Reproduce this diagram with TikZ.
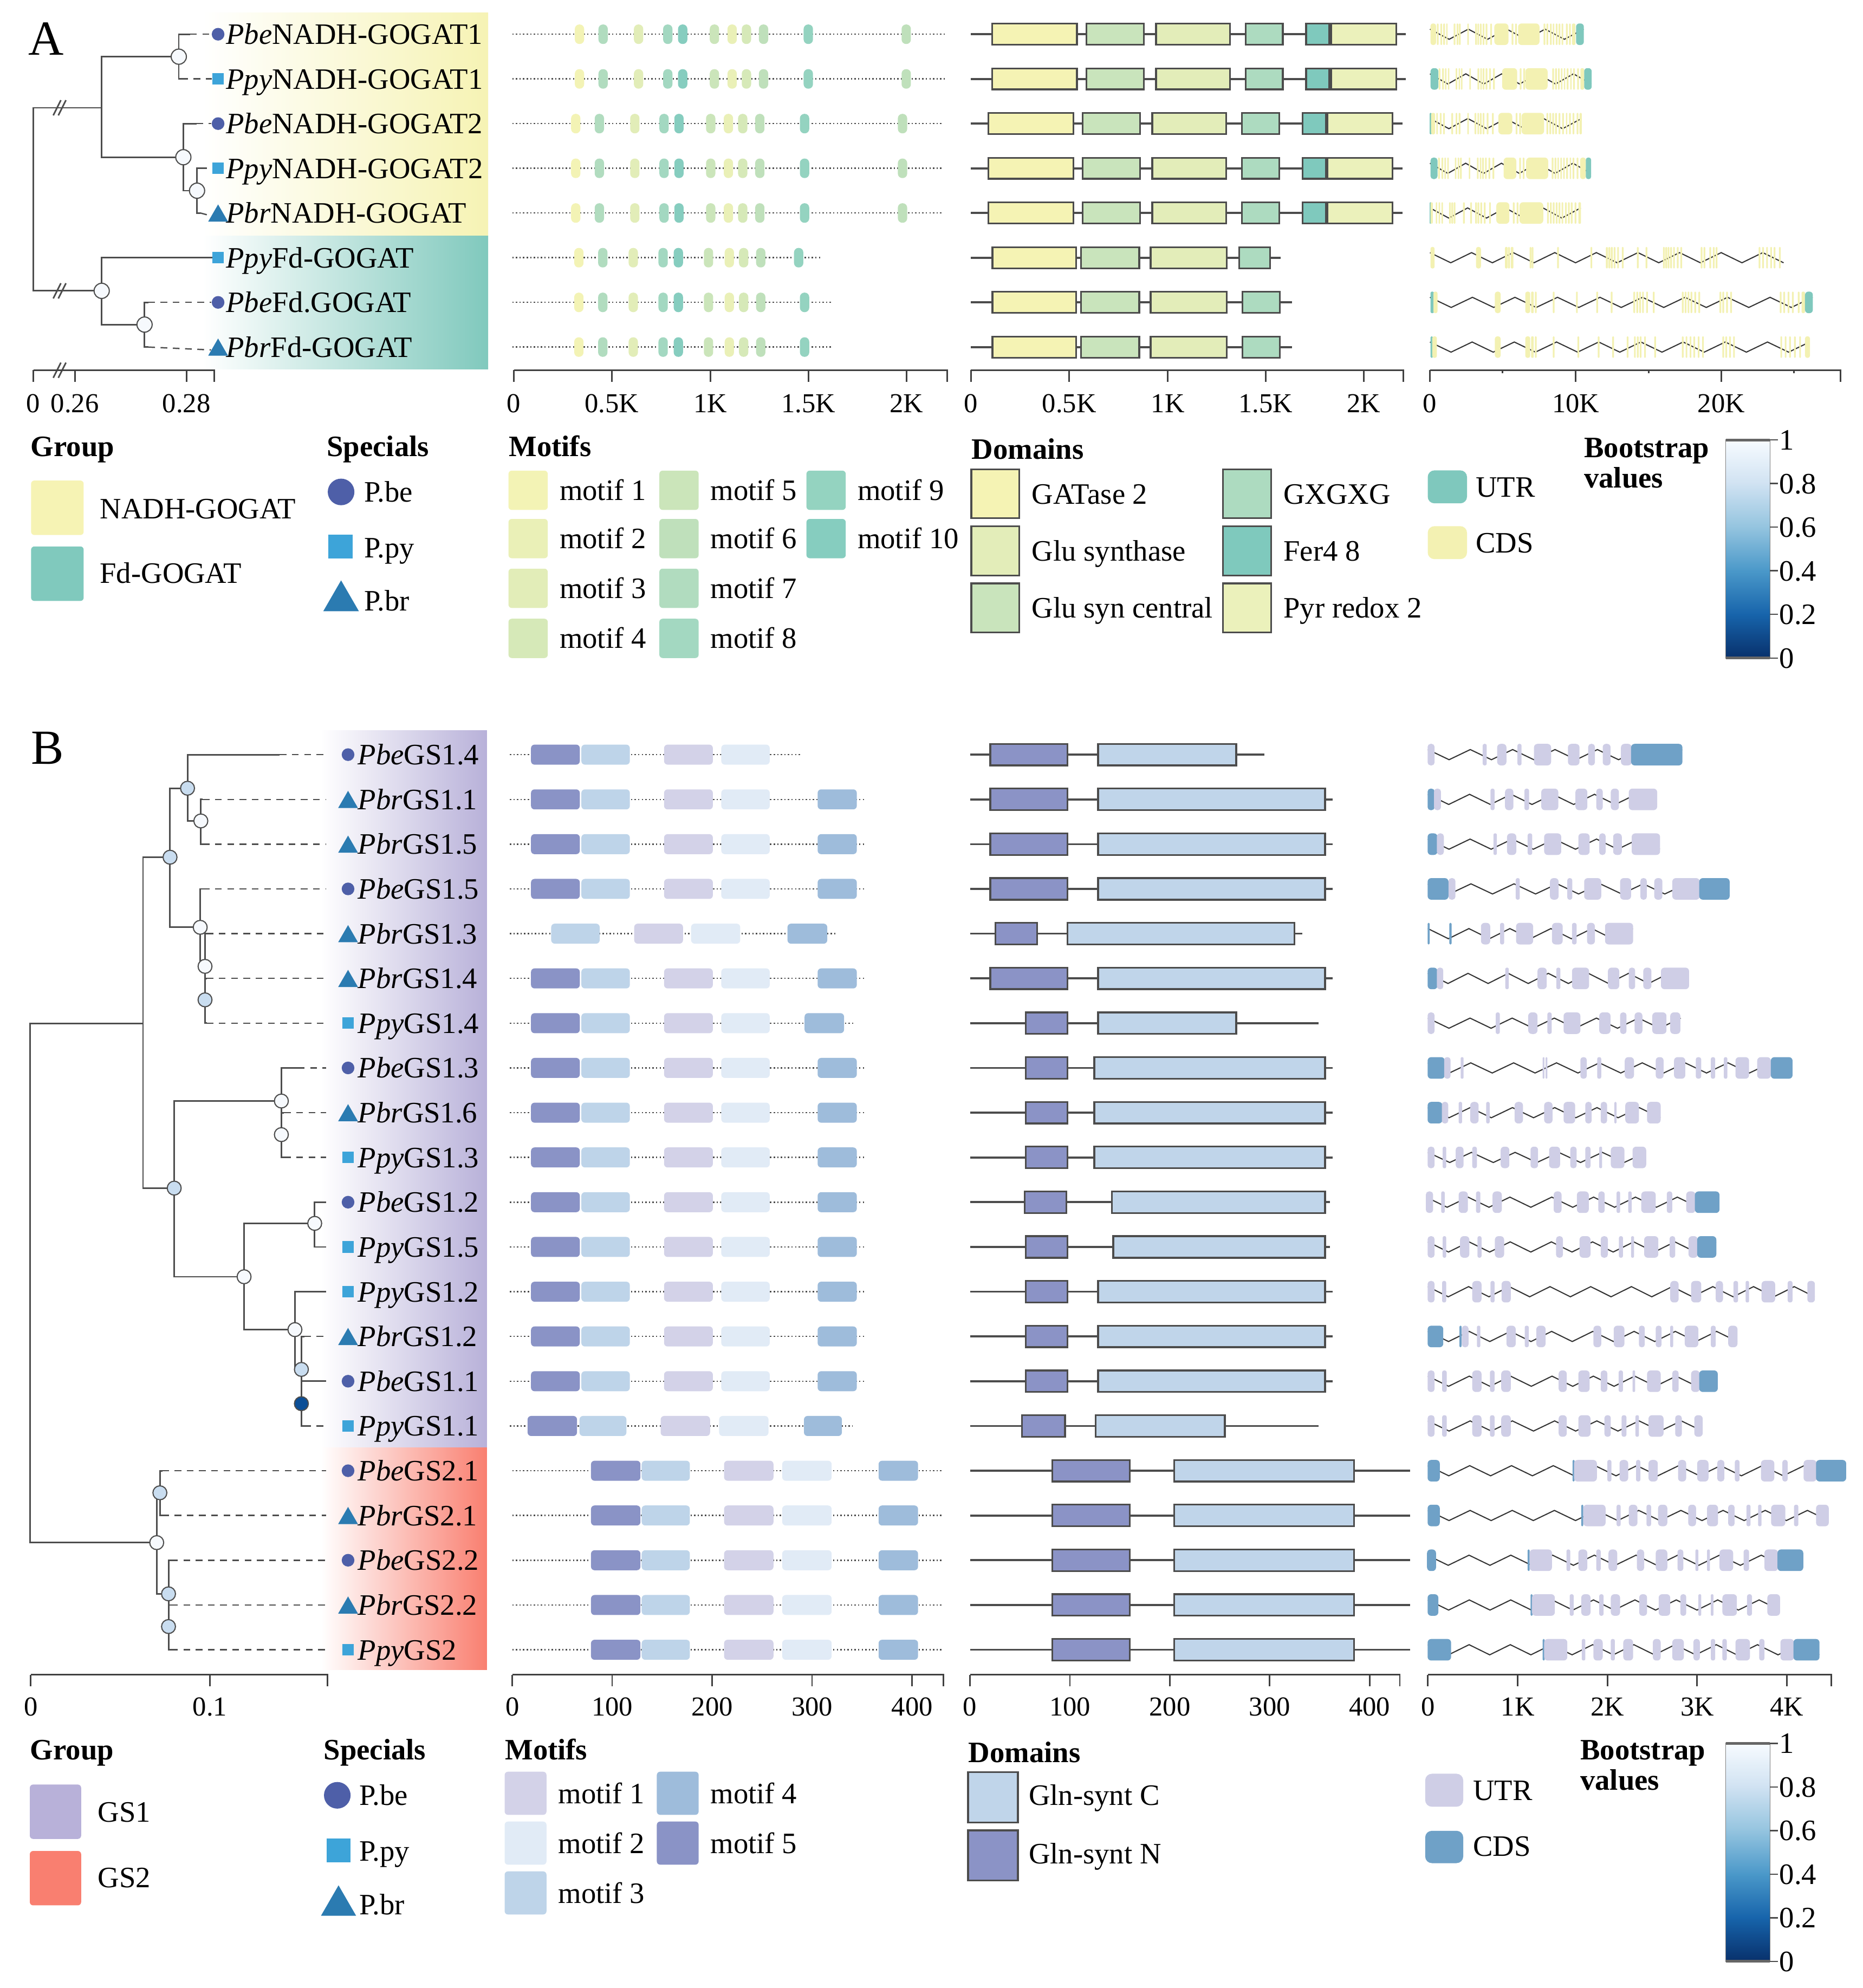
\documentclass[tikz,border=0pt]{standalone}
\usepackage{fontspec}
\setmainfont{Liberation Serif}
\usetikzlibrary{positioning,shapes.geometric}

\definecolor{treeln}{HTML}{4D4D4D}
\definecolor{cbe}{HTML}{4E5FA8}
\definecolor{cpy}{HTML}{3DA4D9}
\definecolor{cbr}{HTML}{2B7BB1}
\definecolor{bsw}{HTML}{F6F9FD}
\definecolor{bsl}{HTML}{C9DDF0}
\definecolor{bsd}{HTML}{0B4E96}
\definecolor{grpY}{HTML}{F6F3B4}
\definecolor{grpT}{HTML}{80C9BD}
\definecolor{grpP}{HTML}{B8B1D9}
\definecolor{grpR}{HTML}{F97F70}
\definecolor{m1}{HTML}{F3F3B5}
\definecolor{m2}{HTML}{EAF0B7}
\definecolor{m3}{HTML}{E2EDB8}
\definecolor{m4}{HTML}{D6E9B8}
\definecolor{m5}{HTML}{CBE5BA}
\definecolor{m6}{HTML}{BFE0BB}
\definecolor{m7}{HTML}{B1DCBF}
\definecolor{m8}{HTML}{A3D8C1}
\definecolor{m9}{HTML}{94D3C0}
\definecolor{m10}{HTML}{86CDBF}
\definecolor{dGA}{HTML}{F5F3B4}
\definecolor{dGS}{HTML}{E3EDB9}
\definecolor{dGC}{HTML}{C9E4BC}
\definecolor{dGX}{HTML}{ADDBC0}
\definecolor{dFe}{HTML}{7FC9BD}
\definecolor{dPy}{HTML}{EBF1BB}
\definecolor{gY}{HTML}{F3F1B2}
\definecolor{gT}{HTML}{7FC8BD}
\definecolor{gL}{HTML}{CFCEE6}
\definecolor{gC}{HTML}{6FA1C7}
\definecolor{q1}{HTML}{D3D2E8}
\definecolor{q2}{HTML}{E1EBF6}
\definecolor{q3}{HTML}{BED4E9}
\definecolor{q4}{HTML}{9EBCDB}
\definecolor{q5}{HTML}{8A93C6}
\definecolor{dsC}{HTML}{C0D5EA}
\definecolor{dsN}{HTML}{8B93C6}
\definecolor{cb1}{HTML}{F7FBFF}
\definecolor{cb2}{HTML}{D0E2F2}
\definecolor{cb3}{HTML}{94C4DF}
\definecolor{cb4}{HTML}{4A98C9}
\definecolor{cb5}{HTML}{1764AB}
\definecolor{cb6}{HTML}{08306B}

\tikzstyle{branch}=[draw=treeln,line width=0.7pt]
\tikzstyle{leafdash}=[draw=treeln,line width=0.6pt,dash pattern=on 3pt off 2.5pt]
\tikzstyle{bsnode}=[draw=treeln,circle,line width=0.5pt,minimum size=0.24cm,inner sep=0pt]
\tikzstyle{mkbe}=[circle,fill=cbe,minimum size=0.2cm,inner sep=0pt]
\tikzstyle{mkpy}=[rectangle,fill=cpy,minimum size=0.18cm,inner sep=0pt]
\tikzstyle{tri}=[regular polygon,regular polygon sides=3,fill=cbr,inner sep=0pt]
\tikzstyle{mkbr}=[tri,minimum size=0.36cm,yshift=-0.045cm]
\tikzstyle{lab}=[anchor=west,inner sep=0pt,text height=9pt,text depth=0pt,font=\fontsize{13.3}{16}\selectfont]
\tikzstyle{ttl}=[lab,font=\fontsize{13.3}{16}\selectfont\bfseries]
\tikzstyle{ticklab}=[lab,anchor=center,text height=8.3pt,font=\fontsize{12.3}{15}\selectfont]
\tikzstyle{axisln}=[draw=black!75,line width=0.7pt]
\tikzstyle{motifln}=[draw=black!70,line width=0.6pt,densely dotted]
\tikzstyle{domln}=[draw=black!70,line width=0.9pt]
\tikzstyle{dombox}=[draw=black!70,line width=0.8pt]
\tikzstyle{intron}=[draw=black!80,line width=0.5pt]

% zigzag intron line: y, start, end, half period
\newcommand\zig[4]{%
  \pgfmathtruncatemacro\zn{max(1,round((#3-#2)/#4))}%
  \pgfmathsetmacro\zd{(#3-#2)/\zn}%
  \draw[intron] (#2,#1-4) \foreach \k in {1,...,\zn}{ -- ({#2+\k*\zd},{#1+4-8*mod(\k+1,2)})};%
}
% gene row: y, start, end, half period, exons a/b/colour
\newcommand\generow[5]{%
  \zig{#1}{#2}{#3}{#4}%
  \foreach \a/\b/\c in {#5}{%
    \pgfmathsetmacro\rc{min(1.6,(\b-\a+2)*0.055)}%
    \fill[fill=g\c,rounded corners=\rc pt] (\a-1,#1-8.5) rectangle (\b+1,#1+8.5);}%
}
% motif row: y, start, end, boxes a/b/colour
\newcommand\qrow[4]{%
  \draw[motifln] (#2,#1) -- (#3,#1);
  \foreach \a/\b/\c in {#4} \fill[fill=\c,rounded corners=1.6pt] (\a,#1-7.9) rectangle (\b,#1+7.9);
}
% colour bar: top y, bottom y
\newcommand\bscolorbar[2]{%
  \pgfmathsetmacro\hh{(#2-#1)/5}
  \foreach \ca/\cb [count=\j from 0] in {cb1/cb2,cb2/cb3,cb3/cb4,cb4/cb5,cb5/cb6}
    \shade[top color=\ca,bottom color=\cb] (1361,{#1+\j*\hh}) rectangle (1396,{#1+(\j+1)*\hh+0.3});
  \draw[black!50,line width=0.4pt] (1361,#1) rectangle (1396,#2);
  \draw[black!60,line width=1.2pt] (1361,#1) -- (1396,#1) (1361,#2) -- (1396,#2);
  \foreach \v [count=\j from 0] in {1,0.8,0.6,0.4,0.2,0}{
    \draw[black!70,line width=0.6pt] (1396,{#1+\j*\hh}) -- (1402,{#1+\j*\hh});
    \node[lab] at (1403,{#1+\j*\hh}) {\v};}
}

\begin{document}
\begin{tikzpicture}[x=0.02cm,y=-0.02cm]
\useasboundingbox (0,0) rectangle (1469,1568);

% group backgrounds
\shade[left color=white,right color=grpY] (160,10) rectangle (385,186);
\shade[left color=white,right color=grpT] (160,186) rectangle (385,291);
\shade[left color=white,right color=grpP] (253,576) rectangle (384,1142);
\shade[left color=white,right color=grpR] (253,1142) rectangle (384,1317);

\node[font=\fontsize{22}{26}\selectfont,inner sep=0pt] (pA) at (36.5,30.5) {A};
\node[font=\fontsize{22}{26}\selectfont,inner sep=0pt] (pB) at (37.5,590) {B};

%%%%% tree A
\coordinate (a0) at (26.3,157);
\coordinate (a1) at (80,85);
\coordinate (a2) at (141,44.7);
\coordinate (a3) at (144.6,124);
\coordinate (a5) at (155.4,150.4);
\coordinate (a4) at (80.2,229.4);
\coordinate (a6) at (114,256);
\foreach \x [count=\i] in {150,143,155,158,158,167,117,117}
  \coordinate (ta\i) at (\x,{27+35.25*(\i-1)});
\foreach \sp/\nm [count=\i] in {be/NADH-GOGAT1,py/NADH-GOGAT1,be/NADH-GOGAT2,py/NADH-GOGAT2,br/NADH-GOGAT,py/Fd-GOGAT,be/Fd.GOGAT,br/Fd-GOGAT}{
  \node[mk\sp] (ma\i) at (172,{27+35.25*(\i-1)}) {};
  \node[lab] (la\i) at (178,{27+35.25*(\i-1)}) {\textit{P\sp}\nm};
}
\foreach \p/\c in {a0/a1,a0/a4,a1/a2,a1/a3,a2/ta1,a2/ta2,a3/ta3,a3/a5,a5/ta4,a5/ta5,a4/ta6,a4/a6,a6/ta7,a6/ta8}
  \draw[branch] (\p) |- (\c);
\foreach \i in {1,...,8} \draw[leafdash] (ta\i) -- (ma\i.west);
\foreach \n in {a2,a3,a5,a4,a6} \node[bsnode,fill=bsw] (c\n) at (\n) {};
\foreach \y in {85,229.4,292} \draw[branch] (42,\y+6) -- (48,\y-6) (46,\y+6) -- (52,\y-6);
\draw[axisln] (26.3,292) -- (169,292) -- (169,301);
\foreach \x/\tx [count=\i] in {26.3/0,59/0.26,147/0.28}{
  \draw[axisln] (\x,292) -- (\x,301);
  \node[ticklab] (xa\i) at (\x,318) {\tx};}

%%%%% motifs A
\begin{scope}[shift={(384.45,0)},xscale=0.2452]
\foreach \y/\e/\s in {27/1475/0,62.25/1475/0,97.5/1465/-12,132.75/1465/-12,168/1465/-12}{
  \draw[motifln] (80,\y) -- (\e,\y);
  \foreach \m/\c in {296/m1,372/m7,486/m3,580/m8,628/m10,730/m5,787/m2,833/m4,888/m6,1032/m9,1347/m6}
    \fill[fill=\c,rounded corners=2pt] (\m+\s-15,\y-7.7) rectangle (\m+\s+15,\y+7.7);
}
\foreach \y/\e/\l in {203.25/1075/1001,238.5/1110/1020,273.75/1110/1020}{
  \draw[motifln] (80,\y) -- (\e,\y);
  \foreach \m/\c in {294/m1,371/m7,469/m3,565/m8,614/m10,711/m5,778/m2,824/m4,879/m6,\l/m9}
    \fill[fill=\c,rounded corners=2pt] (\m-15,\y-7.7) rectangle (\m+15,\y+7.7);
}
\draw[axisln] (85,292) -- (1478,292) -- (1478,301);
\foreach \x/\tx [count=\i] in {85/0,400/0.5K,717/1K,1032/1.5K,1348/2K}{
  \draw[axisln] (\x,292) -- (\x,301);
  \node[ticklab] (xm\i) at (\x,318) {\tx};}
\end{scope}

%%%%% domains A
\begin{scope}[shift={(760.4,0)},xscale=0.2452]
\foreach \y/\e/\s in {27/1420/0,62.25/1420/0,97.5/1410/-12,132.75/1410/-12,168/1410/-12}{
  \draw[domln] (22,\y) -- (\e,\y);
  \foreach \a/\b/\c in {90/363/dGA,393/578/dGC,617/855/dGS,905/1025/dGX,1100/1175/dFe,1180/1390/dPy}
    \filldraw[dombox,fill=\c] (\a+\s,\y-8.3) rectangle (\b+\s,\y+8.3);
}
\foreach \y/\e/\p/\q in {203.25/1018/885/984,238.5/1055/895/1015,273.75/1055/895/1015}{
  \draw[domln] (22,\y) -- (\e,\y);
  \foreach \a/\b/\c in {91/360/dGA,376/563/dGC,600/845/dGS,\p/\q/dGX}
    \filldraw[dombox,fill=\c] (\a,\y-8.3) rectangle (\b,\y+8.3);
}
\draw[axisln] (22,292) -- (1413,292) -- (1413,301);
\foreach \x/\tx [count=\i] in {22/0,338/0.5K,655/1K,970/1.5K,1285/2K}{
  \draw[axisln] (\x,292) -- (\x,301);
  \node[ticklab] (xd\i) at (\x,318) {\tx};}
\end{scope}

%%%%% gene structures A
\begin{scope}[shift={(1110.6,0)},xscale=0.2286]
\generow{27}{75}{605}{65}{78/95/Y,100/104/Y,112/116/Y,122/126/Y,132/135/Y,158/162/Y,168/172/Y,176/180/Y,205/208/Y,232/236/Y,240/243/Y,248/252/Y,258/262/Y,268/272/Y,284/288/Y,298/345/Y,358/362/Y,370/374/Y,380/452/Y,468/472/Y,478/482/Y,490/494/Y,500/503/Y,510/514/Y,520/524/Y,530/534/Y,545/549/Y,556/560/Y,566/576/Y,580/605/T}
\generow{62.25}{75}{632}{65}{78/103/T,106/110/Y,118/122/Y,128/131/Y,138/141/Y,165/168/Y,175/178/Y,183/186/Y,212/215/Y,240/244/Y,250/253/Y,258/262/Y,268/272/Y,280/284/Y,294/298/Y,325/375/Y,386/390/Y,398/402/Y,405/480/Y,498/502/Y,508/512/Y,518/521/Y,528/531/Y,538/541/Y,548/552/Y,560/563/Y,570/574/Y,584/588/Y,595/606/Y,608/632/T}
\generow{97.5}{75}{598}{65}{75/80/T,80/92/Y,98/101/Y,110/114/Y,122/125/Y,150/154/Y,165/168/Y,175/179/Y,205/208/Y,230/234/Y,240/243/Y,248/252/Y,258/262/Y,272/276/Y,290/294/Y,312/358/Y,372/376/Y,384/388/Y,392/468/Y,478/482/Y,488/492/Y,498/502/Y,508/512/Y,520/524/Y,532/536/Y,545/548/Y,556/560/Y,568/572/Y,582/586/Y,592/598/Y}
\generow{132.75}{75}{630}{65}{78/100/T,104/108/Y,116/120/Y,126/129/Y,136/139/Y,162/165/Y,172/175/Y,180/184/Y,210/213/Y,238/242/Y,248/251/Y,256/260/Y,266/270/Y,278/282/Y,292/296/Y,330/372/Y,384/388/Y,396/400/Y,408/482/Y,496/500/Y,506/510/Y,516/519/Y,526/529/Y,536/539/Y,546/550/Y,558/561/Y,568/572/Y,582/586/Y,594/612/Y,614/630/T}
\generow{168}{75}{595}{65}{75/78/T,78/84/Y,96/99/Y,106/109/Y,116/119/Y,142/146/Y,150/154/Y,158/162/Y,190/194/Y,215/219/Y,232/236/Y,240/244/Y,250/254/Y,262/266/Y,280/284/Y,305/348/Y,362/366/Y,375/379/Y,385/465/Y,480/484/Y,490/494/Y,500/504/Y,510/514/Y,520/524/Y,530/534/Y,542/546/Y,552/556/Y,562/566/Y,575/579/Y,588/595/Y}
\generow{203.25}{75}{1295}{72}{78/90/Y,235/250/Y,335/342/Y,345/350/Y,355/362/Y,420/424/Y,427/431/Y,515/519/Y,630/634/Y,683/688/Y,692/696/Y,700/705/Y,710/714/Y,722/726/Y,738/742/Y,790/794/Y,820/824/Y,880/884/Y,888/892/Y,896/900/Y,905/909/Y,915/919/Y,928/932/Y,940/944/Y,1010/1014/Y,1020/1024/Y,1040/1044/Y,1052/1056/Y,1062/1066/Y,1210/1214/Y,1222/1226/Y,1236/1240/Y,1250/1254/Y,1262/1266/Y,1280/1284/Y}
\generow{238.5}{75}{1395}{72}{78/88/T,88/100/Y,300/318/Y,405/420/Y,425/432/Y,438/442/Y,500/504/Y,580/584/Y,650/654/Y,700/704/Y,778/782/Y,788/792/Y,798/802/Y,808/812/Y,822/826/Y,845/849/Y,945/949/Y,955/959/Y,965/969/Y,975/979/Y,988/992/Y,1002/1006/Y,1075/1079/Y,1085/1089/Y,1098/1102/Y,1112/1116/Y,1283/1287/Y,1295/1299/Y,1310/1314/Y,1325/1329/Y,1345/1349/Y,1358/1368/Y,1370/1395/T}
\generow{273.75}{75}{1385}{72}{78/84/T,84/98/Y,300/318/Y,405/420/Y,425/432/Y,438/442/Y,500/504/Y,585/589/Y,655/659/Y,705/709/Y,755/759/Y,780/784/Y,790/794/Y,800/804/Y,815/819/Y,850/854/Y,945/949/Y,958/962/Y,972/976/Y,985/989/Y,1000/1004/Y,1015/1019/Y,1085/1089/Y,1095/1099/Y,1108/1112/Y,1122/1126/Y,1285/1289/Y,1300/1304/Y,1315/1319/Y,1332/1336/Y,1350/1354/Y,1370/1385/Y}
\draw[axisln] (75,292) -- (1492,292) -- (1492,301);
\foreach \x/\tx [count=\i] in {75/0,578/10K,1080/20K}{
  \draw[axisln] (\x,292) -- (\x,301);
  \node[ticklab] (xg\i) at (\x,318) {\tx};}
\foreach \x in {325,830,1330} \draw[axisln] (\x,292) -- (\x,294.5);
\end{scope}

%%%%% legend A
\node[ttl] (grA) at (24,352) {Group};
\fill[grpY,rounded corners=1.5pt] (24.5,379) rectangle (66,422);
\fill[grpT,rounded corners=1.5pt] (24.5,431) rectangle (66,474);
\node[lab] (grA1) at (78.5,401) {NADH-GOGAT};
\node[lab] (grA2) at (78.5,452) {Fd-GOGAT};
\node[ttl] (spA) at (257.5,352) {Specials};
\node[mkbe,minimum size=0.42cm] (spA1) at (269,388) {};
\node[mkpy,minimum size=0.38cm] (spA2) at (268.5,431) {};
\node[tri,minimum size=0.65cm] (spA3) at (269,474) {};
\node[lab] (spA1l) at (287,388) {P.be};
\node[lab] (spA2l) at (287,432) {P.py};
\node[lab] (spA3l) at (287,474) {P.br};
\node[ttl] (moA) at (401,352) {Motifs};
\foreach \x/\y/\c/\tx [count=\i] in {401/386.7/m1/motif 1,401/424.8/m2/motif 2,401/464/m3/motif 3,401/503.5/m4/motif 4,520/386.7/m5/motif 5,520/424.8/m6/motif 6,520/464/m7/motif 7,520/503.5/m8/motif 8,636/386.7/m9/motif 9,636/424.8/m10/motif 10}{
  \fill[fill=\c,rounded corners=1.5pt] (\x,\y-15.5) rectangle (\x+31,\y+15.5);
  \node[lab] (moA\i) at (\x+40,\y) {\tx};}
\node[ttl] (doA) at (766,354) {Domains};
\foreach \x/\y/\c/\tx [count=\i] in {766/389.5/dGA/GATase 2,766/434.5/dGS/Glu synthase,766/479.5/dGC/Glu syn central,964.5/389.5/dGX/GXGXG,964.5/434.5/dFe/Fer4 8,964.5/479.5/dPy/Pyr redox 2}{
  \filldraw[dombox,fill=\c] (\x,\y-19.3) rectangle (\x+38,\y+19.3);
  \node[lab] (doA\i) at (\x+47.5,\y) {\tx};}
\fill[gT,rounded corners=3pt] (1126,371) rectangle (1157,397);
\fill[gY,rounded corners=3pt] (1126,415) rectangle (1157,441);
\node[lab] (utA) at (1163.5,384) {UTR};
\node[lab] (cdA) at (1163.5,428) {CDS};
\node[ttl] (bsA) at (1249,353) {Bootstrap};
\node[ttl] (bsA2) at (1249,377) {values};
\bscolorbar{347}{519}

%%%%% tree B
\coordinate (b0) at (23.8,1000);
\coordinate (g1) at (112.8,807.2);
\coordinate (g2) at (123.6,1216.7);
\coordinate (n1) at (134.1,676.1);
\coordinate (n2) at (147.9,621.7);
\coordinate (n3) at (158.4,647.5);
\coordinate (n4) at (157.9,731.4);
\coordinate (n5) at (161.7,762.2);
\coordinate (n6) at (161.7,788.6);
\coordinate (n7) at (137.4,937.1);
\coordinate (n8) at (221.9,868.4);
\coordinate (n9) at (221.9,894.9);
\coordinate (n10) at (192.5,1007);
\coordinate (n11) at (248.2,964.9);
\coordinate (n12) at (232.6,1048.7);
\coordinate (n13) at (237.7,1080.1);
\coordinate (n14) at (237.7,1107.1);
\coordinate (n15) at (126.1,1177.4);
\coordinate (n16) at (132.9,1257.1);
\coordinate (n17) at (132.9,1282.9);
\foreach \x [count=\i] in {220.6,160,160,160,163,163,163,235,224,224,257,257,257,240,257,240,128,128,135,135,135}{
  \coordinate (tb\i) at (\x,{595.2+35.3*(\i-1)});
  \coordinate (eb\i) at (257,{595.2+35.3*(\i-1)});}
\foreach \sp/\nm [count=\i] in {be/GS1.4,br/GS1.1,br/GS1.5,be/GS1.5,br/GS1.3,br/GS1.4,py/GS1.4,be/GS1.3,br/GS1.6,py/GS1.3,be/GS1.2,py/GS1.5,py/GS1.2,br/GS1.2,be/GS1.1,py/GS1.1,be/GS2.1,br/GS2.1,be/GS2.2,br/GS2.2,py/GS2}{
  \node[mk\sp] (mb\i) at (274.5,{595.2+35.3*(\i-1)}) {};
  \node[lab] (lb\i) at (282,{595.2+35.3*(\i-1)}) {\textit{P\sp}\nm};
}
\foreach \p/\c in {b0/g1,b0/g2,g1/n1,g1/n7,n1/n2,n1/n4,n2/tb1,n2/n3,n3/tb2,n3/tb3,n4/tb4,n4/n5,n5/tb5,n5/n6,n6/tb6,n6/tb7,n7/n8,n7/n10,n8/tb8,n8/n9,n9/tb9,n9/tb10,n10/n11,n10/n12,n11/tb11,n11/tb12,n12/tb13,n12/n13,n13/tb14,n13/n14,n14/tb15,n14/tb16,g2/n15,g2/n16,n15/tb17,n15/tb18,n16/tb19,n16/n17,n17/tb20,n17/tb21}
  \draw[branch] (\p) |- (\c);
\foreach \i in {1,...,21} \draw[leafdash] (tb\i) -- (eb\i);
\foreach \n/\f in {n1/bsl,n2/bsl,n3/bsw,n4/bsw,n5/bsw,n6/bsl,n7/bsl,n8/bsw,n9/bsw,n10/bsw,n11/bsw,n12/bsw,n13/bsl,n14/bsd,g2/bsw,n15/bsl,n16/bsl,n17/bsl}
  \node[bsnode,fill=\f,minimum size=0.22cm] (c\n) at (\n) {};
\draw[axisln] (24.3,1321) -- (258.2,1321) -- (258.2,1330);
\foreach \x/\tx [count=\i] in {24.3/0,165.5/0.1}{
  \draw[axisln] (\x,1321) -- (\x,1330);
  \node[ticklab] (xb\i) at (\x,1346) {\tx};}

%%%%% motifs B
\begin{scope}[shift={(384.45,0)},xscale=0.2452]
\qrow{595.2}{72}{1010}{140/297/q5,302/458/q3,568/725/q1,752/908/q2}
\foreach \i in {2,3,4,6,8,9,10,11,12,13,14,15}{
  \pgfmathsetmacro\y{595.2+35.3*(\i-1)}
  \qrow{\y}{72}{1218}{140/297/q5,302/458/q3,568/725/q1,752/908/q2,1062/1188/q4}}
\qrow{736.4}{72}{1125}{205/361/q3,472/629/q1,655/813/q2,965/1093/q4}
\qrow{807}{72}{1178}{140/297/q5,302/458/q3,568/725/q1,752/908/q2,1020/1147/q4}
\qrow{1124.7}{72}{1173}{129/288/q5,296/447/q3,557/716/q1,745/904/q2,1018/1140/q4}
\foreach \y in {1160,1195.3,1230.6,1265.9,1301.2}
  \qrow{\y}{80}{1467}{333/492/q5,496/651/q3,761/920/q1,948/1107/q2,1258/1385/q4}
\draw[axisln] (80,1321) -- (1466,1321) -- (1466,1330);
\foreach \x/\tx [count=\i] in {80/0,401/100,723/200,1044/300,1366/400}{
  \draw[axisln] (\x,1321) -- (\x,1330);
  \node[ticklab] (xq\i) at (\x,1346) {\tx};}
\end{scope}

%%%%% domains B
\foreach \e/\na/\nb/\ca/\cb [count=\i] in {997/781/842/866/975,1051/781/842/866/1045,1051/781/842/866/1045,1051/781/842/866/1045,1027/785/818/842/1021,1051/781/842/866/1045,1040/809/842/866/975,1051/809/842/863/1045,1051/809/842/863/1045,1051/809/842/863/1045,1049/808/841/877/1045,1049/809/842/878/1045,1051/809/842/866/1045,1051/809/842/866/1045,1051/809/842/866/1045,1040/806/840/864/966,1112/830/891/926/1068,1112/830/891/926/1068,1112/830/891/926/1068,1112/830/891/926/1068,1112/830/891/926/1068}{
  \pgfmathsetmacro\y{595.2+35.3*(\i-1)}
  \draw[domln] (765,\y) -- (\e,\y);
  \filldraw[dombox,fill=dsN] (\na,\y-8.5) rectangle (\nb,\y+8.5);
  \filldraw[dombox,fill=dsC] (\ca,\y-8.5) rectangle (\cb,\y+8.5);
}
\draw[axisln] (765,1321) -- (1104,1321) -- (1104,1330);
\foreach \x/\tx [count=\i] in {765/0,843.8/100,922.6/200,1001.4/300,1080.2/400}{
  \draw[axisln] (\x,1321) -- (\x,1330);
  \node[ticklab] (xe\i) at (\x,1346) {\tx};}

%%%%% gene structures B
\begin{scope}[shift={(1110.6,0)},xscale=0.2286]
\generow{595.2}{68}{945}{72}{68/90/L,258/270/L,308/338/L,378/390/L,435/492/L,552/590/L,622/643/L,672/697/L,735/770/L,770/945/C}
\generow{630.5}{68}{858}{72}{68/90/C,90/112/L,285/297/L,335/362/L,402/416/L,460/517/L,578/617/L,650/670/L,700/726/L,762/858/L}
\generow{665.8}{68}{868}{72}{68/100/C,100/122/L,295/305/L,342/372/L,413/427/L,470/527/L,588/625/L,660/680/L,708/736/L,772/868/L}
\generow{701.1}{68}{1108}{72}{68/138/C,140/162/L,372/384/L,490/518/L,550/565/L,608/665/L,732/768/L,802/822/L,850/876/L,912/1005/L,1005/1108/C}
\generow{736.4}{68}{775}{72}{68/73/C,143/149/C,252/282/L,318/330/L,373/430/L,497/532/L,566/580/L,618/643/L,680/775/L}
\generow{771.7}{68}{968}{72}{68/100/C,100/120/L,336/346/L,447/477/L,512/524/L,566/623/L,690/727/L,762/782/L,812/838/L,873/968/L}
\generow{807}{68}{940}{72}{68/90/L,303/315/L,415/445/L,481/494/L,537/593/L,660/697/L,732/752/L,782/807/L,843/890/L,905/938/L}
\generow{842.3}{68}{1325}{72}{68/125/C,125/145/L,182/190/L,465/469/L,475/479/L,595/615/L,653/665/L,748/778/L,855/880/L,918/955/L,993/1010/L,1045/1058/L,1090/1100/L,1130/1175/L,1205/1250/L,1252/1325/C}
\generow{877.6}{68}{870}{72}{68/117/C,117/137/L,175/185/L,215/242/L,270/280/L,368/395/L,470/497/L,537/575/L,612/632/L,665/685/L,712/718/L,750/795/L,825/870/L}
\generow{912.9}{68}{820}{72}{68/90/L,120/130/L,165/190/L,222/236/L,320/348/L,423/447/L,487/523/L,560/580/L,612/628/L,660/668/L,700/745/L,775/820/L}
\generow{948.2}{62}{1073}{72}{62/85/L,115/125/L,175/205/L,235/248/L,292/322/L,503/528/L,583/622/L,657/677/L,720/730/L,760/770/L,805/853/L,893/910/L,960/990/L,990/1073/C}
\generow{983.5}{68}{1062}{72}{68/90/L,120/130/L,180/210/L,240/252/L,300/330/L,511/533/L,592/628/L,665/688/L,728/740/L,770/778/L,815/862/L,903/920/L,968/998/L,998/1062/C}
\generow{1018.8}{68}{1402}{72}{68/90/L,118/130/L,222/252/L,285/297/L,323/353/L,905/932/L,977/1010/L,1062/1085/L,1123/1137/L,1165/1175/L,1220/1265/L,1310/1325/L,1378/1402/L}
\generow{1054.1}{68}{1135}{72}{68/120/C,178/183/C,186/207/L,238/248/L,340/370/L,403/415/L,443/473/L,640/665/L,710/745/L,797/815/L,855/873/L,905/913/L,955/1000/L,1045/1060/L,1105/1135/L}
\generow{1089.4}{68}{1067}{72}{68/90/L,118/132/L,222/252/L,283/297/L,322/353/L,520/546/L,588/625/L,665/686/L,727/740/L,775/782/L,825/870/L,912/932/L,977/1005/L,1005/1067/C}
\generow{1124.7}{68}{1015}{72}{68/90/L,118/132/L,222/252/L,283/297/L,322/353/L,520/546/L,588/628/L,678/698/L,737/752/L,785/795/L,830/880/L,922/943/L,988/1015/L}
\generow{1160}{68}{1510}{72}{68/108/C,568/573/C,573/650/L,688/700/L,730/758/L,787/800/L,830/860/L,932/958/L,998/1035/L,1067/1090/L,1128/1142/L,1218/1262/L,1292/1308/L,1365/1408/L,1408/1510/C}
\generow{1195.3}{68}{1450}{72}{68/108/C,598/603/C,605/680/L,720/732/L,762/790/L,823/837/L,863/893/L,967/992/L,1032/1068/L,1105/1125/L,1168/1180/L,1208/1218/L,1253/1300/L,1332/1345/L,1408/1450/L}
\generow{1230.6}{66}{1362}{72}{66/95/C,413/418/C,420/495/L,547/558/L,588/617/L,650/663/L,692/720/L,790/813/L,855/893/L,930/948/L,992/1000/L,1032/1040/L,1075/1120/L,1158/1175/L,1230/1275/L,1275/1362/C}
\generow{1265.9}{68}{1282}{72}{68/103/C,423/428/C,428/505/L,558/570/L,598/628/L,660/673/L,700/730/L,798/823/L,865/903/L,940/958/L,1002/1010/L,1045/1052/L,1085/1133/L,1170/1185/L,1240/1282/L}
\generow{1301.2}{68}{1418}{72}{68/147/C,465/470/C,470/548/L,600/610/L,640/670/L,700/712/L,743/775/L,845/870/L,912/950/L,985/1005/L,1045/1058/L,1085/1098/L,1130/1178/L,1212/1228/L,1285/1330/L,1330/1418/C}
\draw[axisln] (68,1321) -- (1460,1321) -- (1460,1330);
\foreach \x/\tx [count=\i] in {68/0,378/1K,688/2K,997/3K,1306/4K}{
  \draw[axisln] (\x,1321) -- (\x,1330);
  \node[ticklab] (xh\i) at (\x,1346) {\tx};}
\end{scope}

%%%%% legend B
\node[ttl] (grB) at (23.5,1380) {Group};
\fill[grpP,rounded corners=1.5pt] (23.5,1407.5) rectangle (64,1450.4);
\fill[grpR,rounded corners=1.5pt] (23.5,1459.9) rectangle (64,1502.8);
\node[lab] (grB1) at (76.8,1429) {GS1};
\node[lab] (grB2) at (76.8,1481) {GS2};
\node[ttl] (spB) at (255,1380) {Specials};
\node[mkbe,minimum size=0.42cm] (spB1) at (266,1416) {};
\node[mkpy,minimum size=0.38cm] (spB2) at (267,1459.5) {};
\node[tri,minimum size=0.64cm] (spB3) at (267,1503) {};
\node[lab] (spB1l) at (283,1416) {P.be};
\node[lab] (spB2l) at (283,1460) {P.py};
\node[lab] (spB3l) at (283,1502) {P.br};
\node[ttl] (moB) at (398,1380) {Motifs};
\foreach \x/\y/\c/\tx [count=\i] in {398/1414.4/q1/motif 1,398/1453.7/q2/motif 2,398/1493/q3/motif 3,518/1414.4/q4/motif 4,518/1453.7/q5/motif 5}{
  \fill[fill=\c,rounded corners=1.5pt] (\x,\y-17) rectangle (\x+33,\y+17);
  \node[lab] (moB\i) at (\x+42,\y) {\tx};}
\node[ttl] (doB) at (763.5,1382) {Domains};
\filldraw[dombox,fill=dsC] (763.5,1397.7) rectangle (802.8,1437.6);
\filldraw[dombox,fill=dsN] (763.5,1443.6) rectangle (802.8,1483.2);
\node[lab] (doB1) at (811,1416) {Gln-synt C};
\node[lab] (doB2) at (811,1462) {Gln-synt N};
\fill[gL,rounded corners=3pt] (1124,1399) rectangle (1154,1425);
\fill[gC,rounded corners=3pt] (1124,1444) rectangle (1154,1469.5);
\node[lab] (utB) at (1161.5,1412) {UTR};
\node[lab] (cdB) at (1161.5,1456) {CDS};
\node[ttl] (bsB) at (1246,1380) {Bootstrap};
\node[ttl] (bsB2) at (1246,1404) {values};
\bscolorbar{1375}{1547}
\end{tikzpicture}
\end{document}
